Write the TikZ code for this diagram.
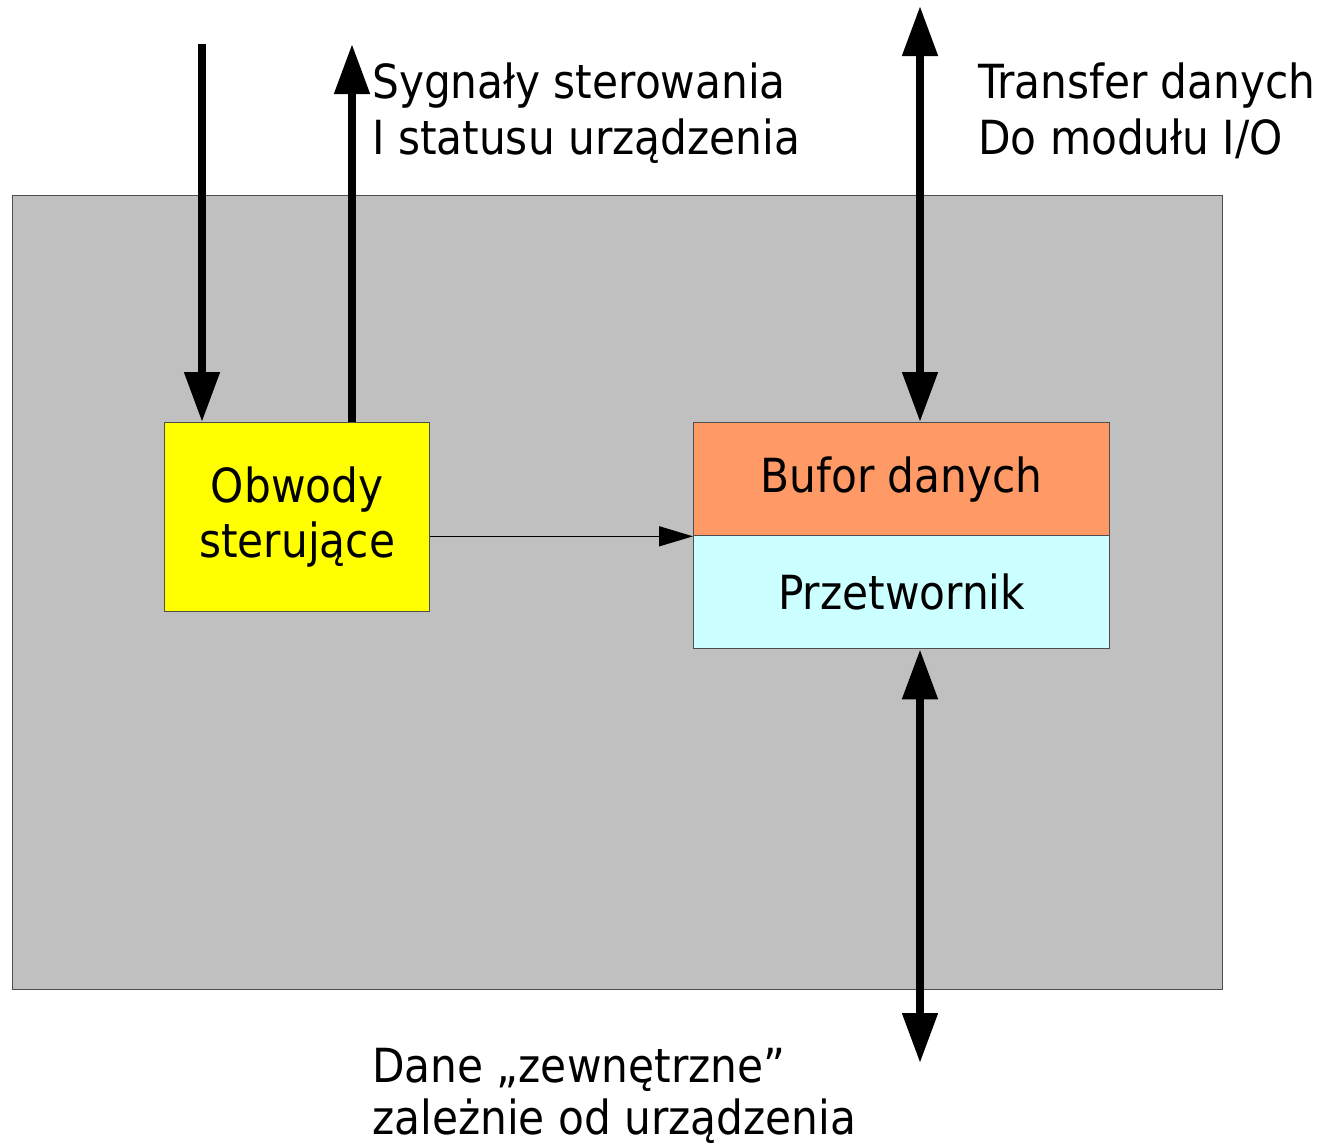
\documentclass[tikz,border=0pt]{standalone}
\usepackage{fontspec}
\setmainfont{DejaVu Sans Condensed}
\usetikzlibrary{arrows.meta}
\definecolor{bggray}{HTML}{C0C0C0}
\definecolor{boxline}{HTML}{4D4D4D}
\definecolor{bufor}{HTML}{FF9966}
\definecolor{przet}{HTML}{CCFFFF}
\definecolor{obw}{HTML}{FFFF00}
\tikzset{
  box/.style={draw=boxline, line width=1.3pt, inner sep=0pt, align=center,
    font=\fontsize{47}{55}\selectfont},
  lbl/.style={anchor=base west, inner sep=0pt, font=\fontsize{47}{50}\selectfont},
  bigarrow/.style={line width=8pt, -{Triangle[length=50pt,width=34pt]}},
  bigdouble/.style={line width=8pt, {Triangle[length=50pt,width=34pt]}-{Triangle[length=50pt,width=34pt]}},
  thinarrow/.style={line width=1.4pt, -{Triangle[length=34pt,width=20pt]}}
}
\begin{document}
\begin{tikzpicture}[x=1pt,y=-1pt]
\useasboundingbox (0,0) rectangle (1330,1144);
\fill[white] (0,0) rectangle (1330,1144);
% background module
\node[draw=boxline, line width=1.3pt, fill=bggray, minimum width=1210pt, minimum height=794pt, inner sep=0pt, anchor=north west] (mod) at (12,195) {};
% boxes
\node[box, fill=obw, minimum width=265pt, minimum height=189pt, anchor=north west] (ob) at (164,422) {Obwody\\sterujące};
\node[box, fill=bufor, minimum width=416pt, minimum height=113pt, anchor=north west] (buf) at (693,422) {\raisebox{-3pt}{Bufor danych}};
\node[box, fill=przet, minimum width=416pt, minimum height=113pt, anchor=north west] (prz) at (693,535) {Przetwornik};
% coordinates
\coordinate (a1) at (202,44);
\coordinate (a2) at (352,44);
\coordinate (a3) at (920,6);
\coordinate (a4) at (920,1063);
% arrows
\draw[bigarrow] (a1) -- (a1 |- ob.north);
\draw[bigarrow] (a2 |- ob.north) -- (a2);
\draw[bigdouble] (a3) -- (a3 |- buf.north);
\draw[bigdouble] (a4 |- prz.south) -- (a4);
\draw[thinarrow] (ob.east |- buf.south) -- (buf.south west);
% labels
\node[lbl] (s1) at (372,98) {Sygnały sterowania};
\node[lbl] (s2) at (372,154) {I statusu urządzenia};
\node[lbl] (t1) at (978,98) {Transfer danych};
\node[lbl] (t2) at (978,154) {Do modułu I/O};
\node[lbl] (d1) at (372,1082) {Dane „zewnętrzne”};
\node[lbl] (d2) at (372,1134) {zależnie od urządzenia};
\end{tikzpicture}
\end{document}
